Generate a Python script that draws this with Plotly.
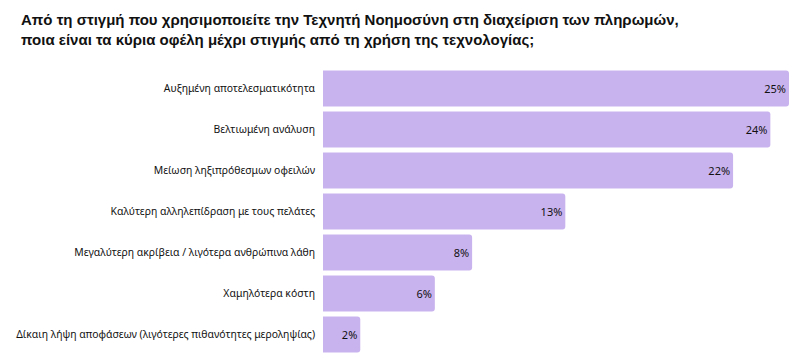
import plotly.graph_objects as go

categories = [
    "Αυξημένη αποτελεσματικότητα",
    "Βελτιωμένη ανάλυση",
    "Μείωση ληξιπρόθεσμων οφειλών",
    "Καλύτερη αλληλεπίδραση με τους πελάτες",
    "Μεγαλύτερη ακρίβεια / λιγότερα ανθρώπινα λάθη",
    "Χαμηλότερα κόστη",
    "Δίκαιη λήψη αποφάσεων (λιγότερες πιθανότητες μεροληψίας)",
]
values = [25, 24, 22, 13, 8, 6, 2]
labels = [f"{v}%" for v in values]

title_text = ("<b>Από τη στιγμή που χρησιμοποιείτε την Τεχνητή Νοημοσύνη στη διαχείριση των πληρωμών,<br>"
              "ποια είναι τα κύρια οφέλη μέχρι στιγμής από τη χρήση της τεχνολογίας;</b>")

fig = go.Figure(go.Bar(
    x=values, y=categories, orientation="h",
    marker=dict(color="#C9B3EE", line=dict(width=0)),
    text=labels, textposition="inside", insidetextanchor="end",
    textfont=dict(color="#111111", size=11, family="Noto Sans"),
    cliponaxis=False,
))

fig.update_layout(
    width=807, height=364,
    margin=dict(l=315, r=26, t=60, b=17, autoexpand=False),
    paper_bgcolor="white", plot_bgcolor="white",
    bargap=0.12,
    barcornerradius=3,
    title=dict(text=title_text, x=13/807, xref="container", xanchor="left",
               y=1 - 17/364, yref="container", yanchor="top",
               font=dict(family="Liberation Sans", size=15, color="#111111")),
    xaxis=dict(range=[0, 25], visible=False),
    yaxis=dict(autorange="reversed", showgrid=False, zeroline=False, showline=False,
               ticks="", ticklabelstandoff=7, automargin=False,
               tickfont=dict(family="Noto Sans", size=10.4, color="#111111")),
    showlegend=False,
    uniformtext=dict(mode="show", minsize=11),
)

fig.write_html("out.html")
